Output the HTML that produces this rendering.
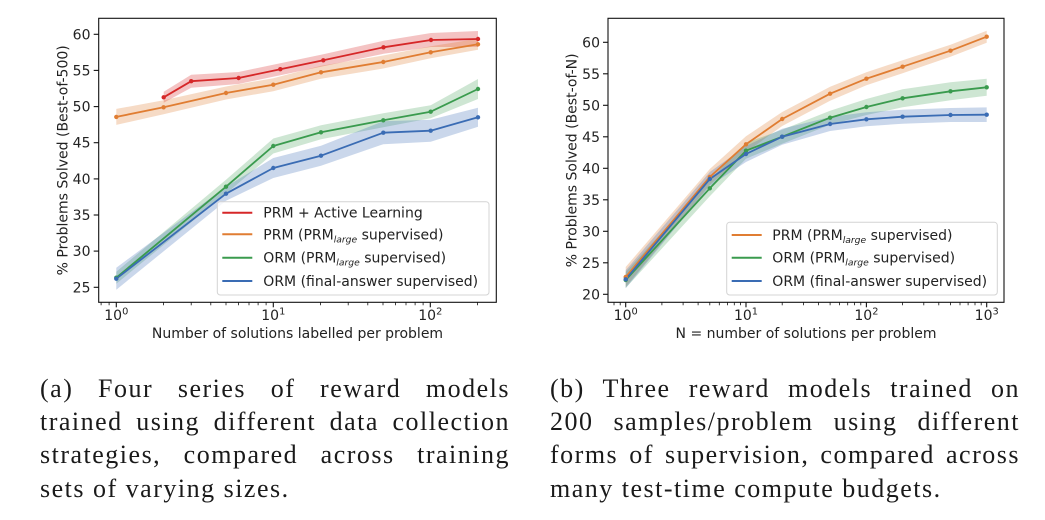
<!DOCTYPE html>
<html>
<head>
<meta charset="utf-8">
<style>
html,body{margin:0;padding:0;background:#fff;}
body{width:1045px;height:520px;position:relative;overflow:hidden;}
svg{position:absolute;left:0;top:0;}
.cap{position:absolute;width:470px;top:371.5px;font-family:"Liberation Serif",serif;font-size:26px;line-height:33.4px;color:#1a1a1a;letter-spacing:1.5px;}
.cap div{text-align:justify;text-align-last:justify;}
.cap div.last{text-align:left;text-align-last:left;}
</style>
</head>
<body>
<svg width="1045" height="520" viewBox="0 0 1045 520" xmlns="http://www.w3.org/2000/svg" font-family="'DejaVu Sans', sans-serif" fill="#222">
<!-- LEFT CHART -->
<g>
 <!-- bands -->
 <polygon fill="#d62728" fill-opacity="0.28" points="163.7,91.8 191.2,74.7 238.6,72 280.3,63.2 323.3,54.3 383.5,40.8 431,33 478,31 478,47 431,47 383.5,53.8 323.3,66.3 280.3,75.2 238.6,84 191.2,87.7 163.7,102.8"/>
 <polygon fill="#e07d32" fill-opacity="0.28" points="116.3,108.9 163.6,100.3 226,86.5 273.3,78.2 321,65.8 383.3,55.5 430.7,46.3 478,38.8 478,49.8 430.7,58.3 383.3,68.5 321,78.8 273.3,91.2 226,99.5 163.6,114.3 116.3,124.9"/>
 <polygon fill="#3a9b4e" fill-opacity="0.25" points="116.3,271.7 226,179.7 273.3,138.5 321,125.3 383.3,113.3 430.7,105.2 478,79 478,99 430.7,118.2 383.3,127.3 321,139.3 273.3,153.5 226,193.7 116.3,283.7"/>
 <polygon fill="#3a6cb4" fill-opacity="0.27" points="116.3,267.7 226,186.7 273.3,158 321,145.7 383.3,121.2 430.7,119.7 478,107.8 478,126.8 430.7,141.7 383.3,144.2 321,165.7 273.3,178 226,200.7 116.3,289.7"/>
 <!-- lines -->
 <g fill="none" stroke-width="1.8" stroke-linejoin="round">
  <polyline stroke="#d62728" points="163.7,97.3 191.2,81.2 238.6,78 280.3,69.2 323.3,60.3 383.5,47.3 431,40 478,39"/>
  <polyline stroke="#e07d32" points="116.3,116.9 163.6,107.3 226,93 273.3,84.7 321,72.3 383.3,62 430.7,52.3 478,44.3"/>
  <polyline stroke="#3a9b4e" points="116.3,277.7 226,186.7 273.3,146 321,132.3 383.3,120.3 430.7,111.7 478,89"/>
  <polyline stroke="#3a6cb4" points="116.3,278.7 226,193.7 273.3,168 321,155.7 383.3,132.7 430.7,130.7 478,117.3"/>
 </g>
 <!-- markers -->
 <g fill="#d62728"><circle cx="163.7" cy="97.3" r="2.2"/><circle cx="191.2" cy="81.2" r="2.2"/><circle cx="238.6" cy="78" r="2.2"/><circle cx="280.3" cy="69.2" r="2.2"/><circle cx="323.3" cy="60.3" r="2.2"/><circle cx="383.5" cy="47.3" r="2.2"/><circle cx="431" cy="40" r="2.2"/><circle cx="478" cy="39" r="2.2"/></g>
 <g fill="#e07d32"><circle cx="116.3" cy="116.9" r="2.2"/><circle cx="163.6" cy="107.3" r="2.2"/><circle cx="226" cy="93" r="2.2"/><circle cx="273.3" cy="84.7" r="2.2"/><circle cx="321" cy="72.3" r="2.2"/><circle cx="383.3" cy="62" r="2.2"/><circle cx="430.7" cy="52.3" r="2.2"/><circle cx="478" cy="44.3" r="2.2"/></g>
 <g fill="#3a9b4e"><circle cx="116.3" cy="277.7" r="2.2"/><circle cx="226" cy="186.7" r="2.2"/><circle cx="273.3" cy="146" r="2.2"/><circle cx="321" cy="132.3" r="2.2"/><circle cx="383.3" cy="120.3" r="2.2"/><circle cx="430.7" cy="111.7" r="2.2"/><circle cx="478" cy="89" r="2.2"/></g>
 <g fill="#3a6cb4"><circle cx="116.3" cy="278.7" r="2.2"/><circle cx="226" cy="193.7" r="2.2"/><circle cx="273.3" cy="168" r="2.2"/><circle cx="321" cy="155.7" r="2.2"/><circle cx="383.3" cy="132.7" r="2.2"/><circle cx="430.7" cy="130.7" r="2.2"/><circle cx="478" cy="117.3" r="2.2"/></g>
 <!-- spines -->
 <rect x="98.7" y="18.3" width="397.6" height="284" fill="none" stroke="#111" stroke-width="1.1"/>
 <!-- y ticks -->
 <g stroke="#111" stroke-width="1.1">
  <line x1="93.7" y1="34.3" x2="98.7" y2="34.3"/><line x1="93.7" y1="70.4" x2="98.7" y2="70.4"/><line x1="93.7" y1="106.6" x2="98.7" y2="106.6"/><line x1="93.7" y1="142.7" x2="98.7" y2="142.7"/><line x1="93.7" y1="178.9" x2="98.7" y2="178.9"/><line x1="93.7" y1="215" x2="98.7" y2="215"/><line x1="93.7" y1="251.1" x2="98.7" y2="251.1"/><line x1="93.7" y1="287.3" x2="98.7" y2="287.3"/>
  <!-- x major -->
  <line x1="116.3" y1="302.3" x2="116.3" y2="307.3"/><line x1="273.3" y1="302.3" x2="273.3" y2="307.3"/><line x1="430.3" y1="302.3" x2="430.3" y2="307.3"/>
 </g>
 <g stroke="#111" stroke-width="0.8">
  <line x1="101.1" y1="302.3" x2="101.1" y2="305.3"/><line x1="109.1" y1="302.3" x2="109.1" y2="305.3"/>
  <line x1="163.6" y1="302.3" x2="163.6" y2="305.3"/><line x1="191.2" y1="302.3" x2="191.2" y2="305.3"/><line x1="210.8" y1="302.3" x2="210.8" y2="305.3"/><line x1="226" y1="302.3" x2="226" y2="305.3"/><line x1="238.5" y1="302.3" x2="238.5" y2="305.3"/><line x1="249" y1="302.3" x2="249" y2="305.3"/><line x1="258.1" y1="302.3" x2="258.1" y2="305.3"/><line x1="266.1" y1="302.3" x2="266.1" y2="305.3"/>
  <line x1="320.6" y1="302.3" x2="320.6" y2="305.3"/><line x1="348.2" y1="302.3" x2="348.2" y2="305.3"/><line x1="367.8" y1="302.3" x2="367.8" y2="305.3"/><line x1="383" y1="302.3" x2="383" y2="305.3"/><line x1="395.5" y1="302.3" x2="395.5" y2="305.3"/><line x1="406" y1="302.3" x2="406" y2="305.3"/><line x1="415.1" y1="302.3" x2="415.1" y2="305.3"/><line x1="423.1" y1="302.3" x2="423.1" y2="305.3"/>
  <line x1="477.6" y1="302.3" x2="477.6" y2="305.3"/>
 </g>
 <g font-size="14" text-anchor="end">
  <text x="90.5" y="39.3">60</text><text x="90.5" y="75.4">55</text><text x="90.5" y="111.6">50</text><text x="90.5" y="147.7">45</text><text x="90.5" y="183.9">40</text><text x="90.5" y="220">35</text><text x="90.5" y="256.1">30</text><text x="90.5" y="292.3">25</text>
 </g>
 <g font-size="14" text-anchor="middle">
  <text x="116.3" y="320">10<tspan font-size="9.8" dy="-5.5">0</tspan></text>
  <text x="273.3" y="320">10<tspan font-size="9.8" dy="-5.5">1</tspan></text>
  <text x="430.3" y="320">10<tspan font-size="9.8" dy="-5.5">2</tspan></text>
 </g>
 <text x="297.5" y="338" font-size="14" text-anchor="middle">Number of solutions labelled per problem</text>
 <text transform="translate(67.5,160.3) rotate(-90)" font-size="14" text-anchor="middle">% Problems Solved (Best-of-500)</text>
 <!-- legend -->
 <rect x="217.3" y="201.7" width="271.7" height="93.3" rx="3" fill="#fff" fill-opacity="0.8" stroke="#d4d4d4" stroke-width="1"/>
 <g stroke-width="2">
  <line x1="222.3" y1="212.7" x2="252.3" y2="212.7" stroke="#d62728"/>
  <line x1="222.3" y1="234.3" x2="252.3" y2="234.3" stroke="#e07d32"/>
  <line x1="222.3" y1="257.7" x2="252.3" y2="257.7" stroke="#3a9b4e"/>
  <line x1="222.3" y1="281" x2="252.3" y2="281" stroke="#3a6cb4"/>
 </g>
 <g font-size="14">
  <text x="263.3" y="217.7">PRM + Active Learning</text>
  <text x="263.3" y="239.3">PRM (PRM<tspan font-size="9.2" font-style="italic" dy="3">large</tspan><tspan dy="-3"> supervised)</tspan></text>
  <text x="263.3" y="262.7">ORM (PRM<tspan font-size="9.2" font-style="italic" dy="3">large</tspan><tspan dy="-3"> supervised)</tspan></text>
  <text x="263.3" y="286">ORM (final-answer supervised)</text>
 </g>
</g>

<!-- RIGHT CHART -->
<g>
 <polygon fill="#e07d32" fill-opacity="0.28" points="625.7,267 709.8,169 746,136.3 782.2,112 830.1,86.7 866.4,72.2 902.6,60.2 950.5,44.7 986.7,30.7 986.7,42.7 950.5,56.7 902.6,73.2 866.4,85.2 830.1,100.7 782.2,126 746,152.3 709.8,185 625.7,287"/>
 <polygon fill="#3a9b4e" fill-opacity="0.25" points="625.7,272 709.8,180.3 746,142.7 782.2,129.7 830.1,110.7 866.4,99 902.6,89.3 950.5,82.3 986.7,78.8 986.7,95.8 950.5,100.3 902.6,107.3 866.4,115 830.1,124.7 782.2,143.7 746,158.7 709.8,196.3 625.7,288"/>
 <polygon fill="#3a6cb4" fill-opacity="0.27" points="625.7,270.3 709.8,172 746,146 782.2,128.7 830.1,117 866.4,112.3 902.6,109.7 950.5,108 986.7,107.4 986.7,122 950.5,122 902.6,123.7 866.4,126.3 830.1,131 782.2,144.7 746,162 709.8,186 625.7,288.3"/>
 <g fill="none" stroke-width="1.8" stroke-linejoin="round">
  <polyline stroke="#e07d32" points="625.7,277 709.8,177 746,144.3 782.2,119 830.1,93.7 866.4,78.7 902.6,66.7 950.5,50.7 986.7,36.7"/>
  <polyline stroke="#3a9b4e" points="625.7,280 709.8,188.3 746,150.7 782.2,136.7 830.1,117.7 866.4,107 902.6,98.3 950.5,91.3 986.7,87.3"/>
  <polyline stroke="#3a6cb4" points="625.7,279.3 709.8,179 746,154 782.2,136.7 830.1,124 866.4,119.3 902.6,116.7 950.5,115 986.7,114.7"/>
 </g>
 <g fill="#e07d32"><circle cx="625.7" cy="277" r="2.2"/><circle cx="709.8" cy="177" r="2.2"/><circle cx="746" cy="144.3" r="2.2"/><circle cx="782.2" cy="119" r="2.2"/><circle cx="830.1" cy="93.7" r="2.2"/><circle cx="866.4" cy="78.7" r="2.2"/><circle cx="902.6" cy="66.7" r="2.2"/><circle cx="950.5" cy="50.7" r="2.2"/><circle cx="986.7" cy="36.7" r="2.2"/></g>
 <g fill="#3a9b4e"><circle cx="625.7" cy="280" r="2.2"/><circle cx="709.8" cy="188.3" r="2.2"/><circle cx="746" cy="150.7" r="2.2"/><circle cx="782.2" cy="136.7" r="2.2"/><circle cx="830.1" cy="117.7" r="2.2"/><circle cx="866.4" cy="107" r="2.2"/><circle cx="902.6" cy="98.3" r="2.2"/><circle cx="950.5" cy="91.3" r="2.2"/><circle cx="986.7" cy="87.3" r="2.2"/></g>
 <g fill="#3a6cb4"><circle cx="625.7" cy="279.3" r="2.2"/><circle cx="709.8" cy="179" r="2.2"/><circle cx="746" cy="154" r="2.2"/><circle cx="782.2" cy="136.7" r="2.2"/><circle cx="830.1" cy="124" r="2.2"/><circle cx="866.4" cy="119.3" r="2.2"/><circle cx="902.6" cy="116.7" r="2.2"/><circle cx="950.5" cy="115" r="2.2"/><circle cx="986.7" cy="114.7" r="2.2"/></g>
 <rect x="608" y="18.3" width="396" height="284" fill="none" stroke="#111" stroke-width="1.1"/>
 <g stroke="#111" stroke-width="1.1">
  <line x1="603" y1="42.3" x2="608" y2="42.3"/><line x1="603" y1="73.8" x2="608" y2="73.8"/><line x1="603" y1="105.3" x2="608" y2="105.3"/><line x1="603" y1="136.8" x2="608" y2="136.8"/><line x1="603" y1="168.3" x2="608" y2="168.3"/><line x1="603" y1="199.8" x2="608" y2="199.8"/><line x1="603" y1="231.3" x2="608" y2="231.3"/><line x1="603" y1="262.8" x2="608" y2="262.8"/><line x1="603" y1="294.3" x2="608" y2="294.3"/>
  <line x1="625.7" y1="302.3" x2="625.7" y2="307.3"/><line x1="746" y1="302.3" x2="746" y2="307.3"/><line x1="866.4" y1="302.3" x2="866.4" y2="307.3"/><line x1="986.7" y1="302.3" x2="986.7" y2="307.3"/>
 </g>
 <g stroke="#111" stroke-width="0.8">
  <line x1="614" y1="302.3" x2="614" y2="305.3"/><line x1="620.2" y1="302.3" x2="620.2" y2="305.3"/>
  <line x1="661.9" y1="302.3" x2="661.9" y2="305.3"/><line x1="683.1" y1="302.3" x2="683.1" y2="305.3"/><line x1="698.1" y1="302.3" x2="698.1" y2="305.3"/><line x1="709.8" y1="302.3" x2="709.8" y2="305.3"/><line x1="719.3" y1="302.3" x2="719.3" y2="305.3"/><line x1="727.4" y1="302.3" x2="727.4" y2="305.3"/><line x1="734.3" y1="302.3" x2="734.3" y2="305.3"/><line x1="740.5" y1="302.3" x2="740.5" y2="305.3"/>
  <line x1="782.2" y1="302.3" x2="782.2" y2="305.3"/><line x1="803.4" y1="302.3" x2="803.4" y2="305.3"/><line x1="818.4" y1="302.3" x2="818.4" y2="305.3"/><line x1="830.1" y1="302.3" x2="830.1" y2="305.3"/><line x1="839.6" y1="302.3" x2="839.6" y2="305.3"/><line x1="847.7" y1="302.3" x2="847.7" y2="305.3"/><line x1="854.6" y1="302.3" x2="854.6" y2="305.3"/><line x1="860.8" y1="302.3" x2="860.8" y2="305.3"/>
  <line x1="902.6" y1="302.3" x2="902.6" y2="305.3"/><line x1="923.8" y1="302.3" x2="923.8" y2="305.3"/><line x1="938.8" y1="302.3" x2="938.8" y2="305.3"/><line x1="950.5" y1="302.3" x2="950.5" y2="305.3"/><line x1="960" y1="302.3" x2="960" y2="305.3"/><line x1="968.1" y1="302.3" x2="968.1" y2="305.3"/><line x1="975" y1="302.3" x2="975" y2="305.3"/><line x1="981.2" y1="302.3" x2="981.2" y2="305.3"/>
 </g>
 <g font-size="14" text-anchor="end">
  <text x="600" y="47.3">60</text><text x="600" y="78.8">55</text><text x="600" y="110.3">50</text><text x="600" y="141.8">45</text><text x="600" y="173.3">40</text><text x="600" y="204.8">35</text><text x="600" y="236.3">30</text><text x="600" y="267.8">25</text><text x="600" y="299.3">20</text>
 </g>
 <g font-size="14" text-anchor="middle">
  <text x="625.7" y="320">10<tspan font-size="9.8" dy="-5.5">0</tspan></text>
  <text x="746" y="320">10<tspan font-size="9.8" dy="-5.5">1</tspan></text>
  <text x="866.4" y="320">10<tspan font-size="9.8" dy="-5.5">2</tspan></text>
  <text x="986.7" y="320">10<tspan font-size="9.8" dy="-5.5">3</tspan></text>
 </g>
 <text x="806" y="338" font-size="14" text-anchor="middle">N = number of solutions per problem</text>
 <text transform="translate(576.5,160.3) rotate(-90)" font-size="14" text-anchor="middle">% Problems Solved (Best-of-N)</text>
 <rect x="726.7" y="222.3" width="270.6" height="72.7" rx="3" fill="#fff" fill-opacity="0.8" stroke="#d4d4d4" stroke-width="1"/>
 <g stroke-width="2">
  <line x1="731.7" y1="235" x2="761.7" y2="235" stroke="#e07d32"/>
  <line x1="731.7" y1="257.7" x2="761.7" y2="257.7" stroke="#3a9b4e"/>
  <line x1="731.7" y1="281" x2="761.7" y2="281" stroke="#3a6cb4"/>
 </g>
 <g font-size="14">
  <text x="772.3" y="240">PRM (PRM<tspan font-size="9.2" font-style="italic" dy="3">large</tspan><tspan dy="-3"> supervised)</tspan></text>
  <text x="772.3" y="262.7">ORM (PRM<tspan font-size="9.2" font-style="italic" dy="3">large</tspan><tspan dy="-3"> supervised)</tspan></text>
  <text x="772.3" y="286">ORM (final-answer supervised)</text>
 </g>
</g>
</svg>

<div class="cap" style="left:40px;">
 <div>(a) Four series of reward models</div>
 <div>trained using different data collection</div>
 <div>strategies, compared across training</div>
 <div class="last">sets of varying sizes.</div>
</div>
<div class="cap" style="left:550px;">
 <div>(b) Three reward models trained on</div>
 <div>200 samples/problem using different</div>
 <div>forms of supervision, compared across</div>
 <div class="last">many test-time compute budgets.</div>
</div>
</body>
</html>
